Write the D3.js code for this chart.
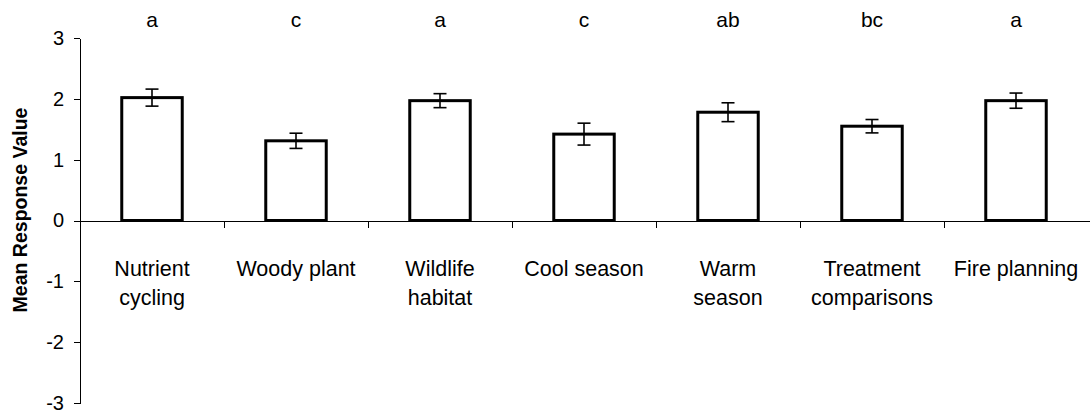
<!DOCTYPE html>
<html>
  <head>
    <meta charset="utf-8">
    <style>
      body { margin: 0; background: #fff; }
      svg text { font-family: "Liberation Sans", Arial, sans-serif; fill: #000; }
      .axis path, .axis line { stroke: #000; stroke-width: 1; shape-rendering: crispEdges; }
      .bar { fill: #fff; stroke: #000; stroke-width: 3; }
      .err { stroke: #000; stroke-width: 1.6; fill: none; }
    </style>
  </head>
  <body>
    <svg class="chart" width="1090" height="413"></svg>

    <script src="https://d3js.org/d3.v7.min.js"></script>
    <script type="text/javascript">
      const categories = [
        ["Nutrient", "cycling"],
        ["Woody plant"],
        ["Wildlife", "habitat"],
        ["Cool season"],
        ["Warm", "season"],
        ["Treatment", "comparisons"],
        ["Fire planning"]
      ];
      const means = [2.02, 1.31, 1.97, 1.42, 1.78, 1.55, 1.97];
      const errors = [0.14, 0.125, 0.115, 0.18, 0.155, 0.11, 0.125];
      const groups = ["a", "c", "a", "c", "ab", "bc", "a"];
      const yTicks = [-3, -2, -1, 0, 1, 2, 3];

      (function() {
        const svg = d3.select('.chart');
        const left = 80, right = 1088, top = 38, bottom = 403;

        const x = d3.scaleBand()
          .domain(d3.range(categories.length))
          .range([left, right])
          .paddingInner(0.58)
          .paddingOuter(0.29);
        const step = x.step();

        const y = d3.scaleLinear().domain([-3, 3]).range([bottom, top]);

        // y axis
        svg.append("g")
          .attr("class", "axis")
          .attr("transform", "translate(" + left + ",0)")
          .call(d3.axisLeft(y).tickValues(yTicks).tickFormat(d => String(d))
            .tickSize(6).tickSizeOuter(0).tickPadding(10))
          .call(g => g.selectAll("text").style("font-size", "20px").attr("font-family", null));

        // x axis at zero, ticks between categories
        const xa = svg.append("g").attr("class", "axis");
        xa.append("line")
          .attr("x1", left).attr("x2", 1090)
          .attr("y1", Math.round(y(0)) + 0.5).attr("y2", Math.round(y(0)) + 0.5);
        xa.selectAll(".sep")
          .data(d3.range(1, categories.length))
          .enter().append("line")
          .attr("x1", d => Math.round(left + d * step) + 0.5)
          .attr("x2", d => Math.round(left + d * step) + 0.5)
          .attr("y1", Math.round(y(0)))
          .attr("y2", Math.round(y(0)) + 7);

        // bars
        svg.selectAll(".bar")
          .data(means)
          .enter().append("rect")
          .attr("class", "bar")
          .attr("x", (d, i) => x(i))
          .attr("width", x.bandwidth())
          .attr("y", d => y(d))
          .attr("height", d => y(0) - y(d));

        // error bars
        const eb = svg.selectAll(".eb")
          .data(means)
          .enter().append("g")
          .attr("class", "err");
        const cx = i => x(i) + x.bandwidth() / 2;
        eb.append("line")
          .attr("x1", (d, i) => cx(i)).attr("x2", (d, i) => cx(i))
          .attr("y1", (d, i) => y(d + errors[i])).attr("y2", (d, i) => y(d - errors[i]));
        eb.append("line")
          .attr("x1", (d, i) => cx(i) - 6.5).attr("x2", (d, i) => cx(i) + 6.5)
          .attr("y1", (d, i) => y(d + errors[i])).attr("y2", (d, i) => y(d + errors[i]));
        eb.append("line")
          .attr("x1", (d, i) => cx(i) - 6.5).attr("x2", (d, i) => cx(i) + 6.5)
          .attr("y1", (d, i) => y(d - errors[i])).attr("y2", (d, i) => y(d - errors[i]));

        // significance letters
        svg.selectAll(".grp")
          .data(groups)
          .enter().append("text")
          .attr("x", (d, i) => cx(i))
          .attr("y", 27)
          .attr("text-anchor", "middle")
          .style("font-size", "21px")
          .text(d => d);

        // category labels
        const lab = svg.selectAll(".lab")
          .data(categories)
          .enter().append("text")
          .attr("text-anchor", "middle")
          .style("font-size", "21.5px")
          .attr("transform", (d, i) => "translate(" + cx(i) + ",276)");
        lab.selectAll("tspan")
          .data(d => d)
          .enter().append("tspan")
          .attr("x", 0)
          .attr("y", (d, j) => j * 29)
          .text(d => d);

        // y title
        svg.append("text")
          .attr("transform", "translate(27,210) rotate(-90)")
          .attr("text-anchor", "middle")
          .style("font-size", "19.5px")
          .style("font-weight", "bold")
          .text("Mean Response Value");
      })()
    </script>
  </body>
</html>
